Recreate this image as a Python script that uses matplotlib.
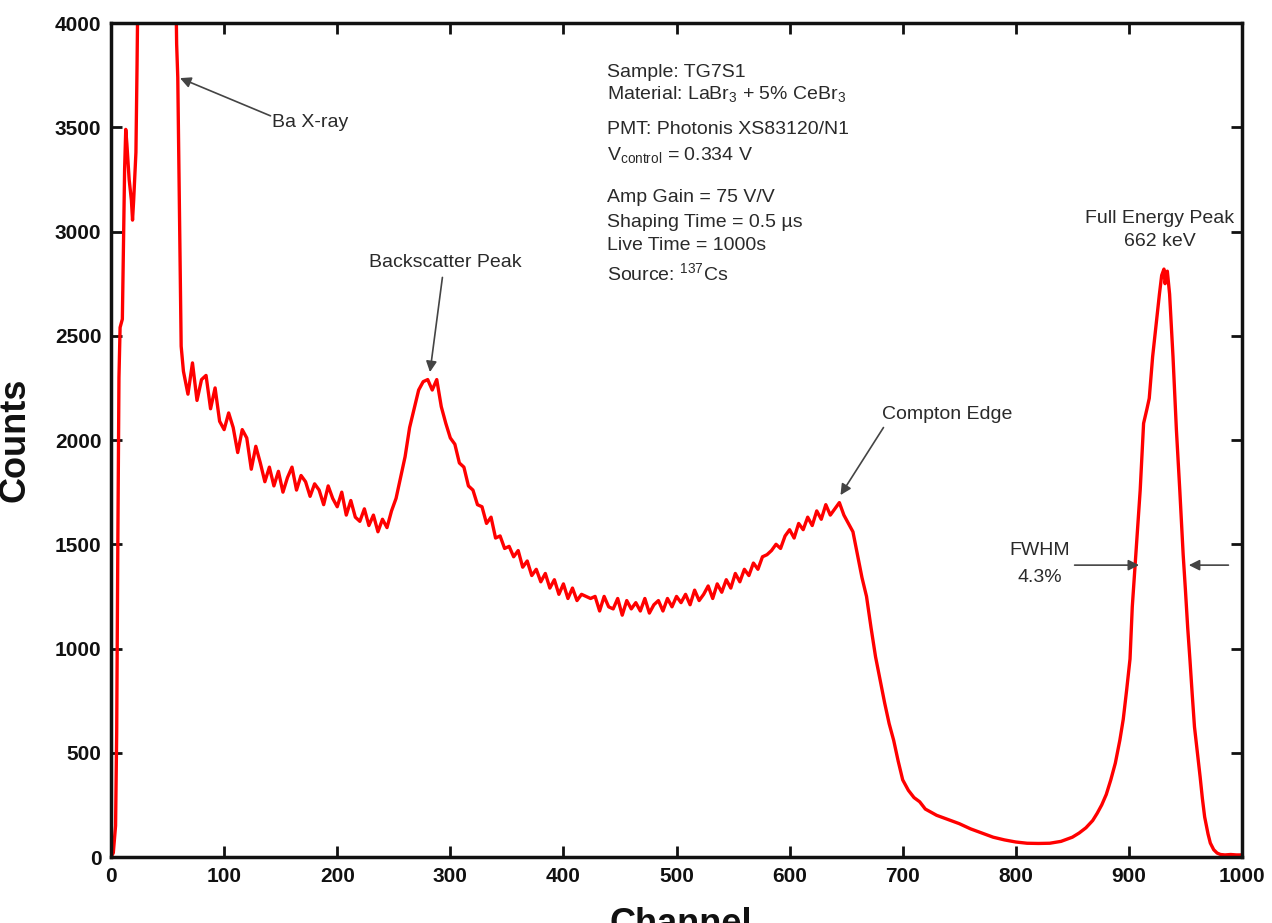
import numpy as np
import matplotlib
matplotlib.use("Agg")
import matplotlib.pyplot as plt

plt.rcParams['font.family'] = ['Liberation Sans', 'DejaVu Sans']
plt.rcParams['mathtext.fontset'] = 'custom'
plt.rcParams['mathtext.rm'] = 'Liberation Sans'
plt.rcParams['mathtext.it'] = 'Liberation Sans:italic'
plt.rcParams['mathtext.bf'] = 'Liberation Sans:bold'

# ---------------- data ----------------
ch_low = [0, 2, 4, 5, 6, 7, 8, 10, 12, 13, 14, 16, 18, 19, 20, 22, 23, 24, 26,
          30, 40, 50, 56, 57, 58, 59, 60, 61, 62]
counts_low = [0, 20, 150, 600, 1500, 2300, 2540, 2580, 3300, 3490, 3420, 3250,
              3150, 3055, 3150, 3380, 3800, 4300, 6000, 9500, 12000, 8000, 5000,
              4300, 3900, 3740, 3300, 2900, 2450]

ch_mid = list(range(64, 661, 4))
counts_mid = [
    2330, 2220, 2370, 2190, 2290, 2310, 2150, 2250, 2090, 2050,   # 64-100
    2130, 2060, 1940, 2050, 2010, 1860, 1970, 1890, 1800, 1870,   # 104-140
    1780, 1850, 1750, 1820, 1870, 1760, 1830, 1800, 1730, 1790,   # 144-180
    1760, 1690, 1780, 1720, 1680, 1750, 1640, 1710, 1630, 1610,   # 184-220
    1670, 1590, 1640, 1560, 1620, 1580, 1660, 1720, 1820, 1920,   # 224-260
    2060, 2150, 2240, 2280, 2290, 2240, 2290, 2160, 2080, 2010,   # 264-300
    1980, 1890, 1870, 1780, 1760, 1690, 1680, 1600, 1630, 1530,   # 304-340
    1540, 1480, 1490, 1440, 1470, 1390, 1420, 1350, 1380, 1320,   # 344-380
    1360, 1290, 1330, 1260, 1310, 1240, 1290, 1230, 1260, 1250,   # 384-420
    1240, 1250, 1180, 1250, 1200, 1190, 1240, 1160, 1230, 1190,   # 424-460
    1220, 1180, 1240, 1170, 1210, 1230, 1180, 1240, 1200, 1250,   # 464-500
    1220, 1260, 1210, 1280, 1230, 1260, 1300, 1240, 1310, 1270,   # 504-540
    1330, 1290, 1360, 1320, 1380, 1350, 1410, 1380, 1440, 1450,   # 544-580
    1470, 1500, 1480, 1540, 1570, 1530, 1600, 1570, 1630, 1590,   # 584-620
    1660, 1620, 1690, 1640, 1670, 1700, 1640, 1600, 1560, 1450,   # 624-660
]

ch_high = [664, 668, 672, 676, 680, 684, 688, 692, 696, 700, 705, 710, 715, 720,
           725, 730, 740, 750, 760, 770, 780, 790, 800, 810, 820, 830, 840, 850,
           856, 862, 868, 872, 876, 880, 884, 888, 892, 895, 898, 901, 903, 906,
           908, 910, 913, 916, 918, 921, 924, 927, 929, 931, 932, 934, 936, 939,
           942, 945, 948, 950, 952, 954, 956, 958, 961, 963, 965, 967, 970, 972,
           975, 978, 981, 985, 990, 995, 1000]
counts_high = [1340, 1250, 1100, 960, 850, 740, 640, 560, 460, 370, 320, 285, 265,
               230, 215, 200, 180, 160, 135, 115, 95, 82, 72, 66, 65, 66, 75, 95,
               115, 140, 175, 210, 250, 300, 370, 450, 560, 660, 800, 950, 1200,
               1440, 1600, 1760, 2080, 2150, 2200, 2400, 2550, 2700, 2790, 2820,
               2750, 2810, 2700, 2400, 2050, 1760, 1450, 1280, 1100, 945, 780, 624,
               480, 384, 280, 192, 110, 67, 35, 19, 12, 10, 12, 10, 10]

channels = ch_low + ch_mid + ch_high
counts = counts_low + counts_mid + counts_high

x_ticks = list(range(0, 1001, 100))
y_ticks = list(range(0, 4001, 500))

info_lines = [
    ("Sample: TG7S1", 3741),
    ("Material: LaBr$_3$ + 5% CeBr$_3$", 3635),
    ("PMT: Photonis XS83120/N1", 3468),
    ("V$_{\\rm control}$ = 0.334 V", 3343),
    ("Amp Gain = 75 V/V", 3141),
    ("Shaping Time = 0.5 \u00b5s", 3022),
    ("Live Time = 1000s", 2911),
    ("Source: $^{137}$Cs", 2767),
]

# ---------------- figure ----------------
fig = plt.figure(figsize=(12.72, 9.23), dpi=100)
ax = fig.add_axes([0.0873, 0.0715, 0.9764 - 0.0873, 0.975 - 0.0715])

ax.plot(channels, counts, color='#ff0000', lw=2.4, clip_on=True)

ax.set_xlim(0, 1000)
ax.set_ylim(0, 4000)
ax.set_xticks(x_ticks)
ax.set_yticks(y_ticks)
ax.tick_params(direction='in', length=8, width=2, top=True, right=True,
               labelsize=15, pad=7, colors='#111111')
for lab in ax.get_xticklabels() + ax.get_yticklabels():
    lab.set_fontweight('bold')
for sp in ax.spines.values():
    sp.set_linewidth(2.5)
    sp.set_color('#111111')

ax.set_ylabel('Counts', fontsize=26, fontweight='bold', labelpad=16, color='#111111')
fig.text(0.535, -0.012, 'Channel', fontsize=26, fontweight='bold', ha='center',
         va='baseline', color='#111111')

txt_col = '#2a2a2a'
for s, yv in info_lines:
    ax.text(438.5, yv, s, fontsize=14, color=txt_col, va='baseline', ha='left')

arrow_kw = dict(arrowstyle='-|>', color='#444444', lw=1.2, mutation_scale=16,
                shrinkA=0, shrinkB=0)

ax.text(142, 3500, 'Ba X-ray', fontsize=14, color=txt_col, va='baseline', ha='left')
ax.annotate('', xy=(61, 3736), xytext=(141, 3555), arrowprops=arrow_kw)

ax.text(296, 2830, 'Backscatter Peak', fontsize=14, color=txt_col,
        ha='center', va='baseline')
ax.annotate('', xy=(282, 2326), xytext=(293, 2780), arrowprops=arrow_kw)

ax.text(682, 2100, 'Compton Edge', fontsize=14, color=txt_col,
        ha='left', va='baseline')
ax.annotate('', xy=(645, 1736), xytext=(683, 2060), arrowprops=arrow_kw)

ax.text(927, 3040, 'Full Energy Peak', fontsize=14, color=txt_col,
        ha='center', va='baseline')
ax.text(927, 2930, '662 keV', fontsize=14, color=txt_col,
        ha='center', va='baseline')

ax.text(821, 1450, 'FWHM', fontsize=14, color=txt_col, ha='center', va='baseline')
ax.text(821, 1320, '4.3%', fontsize=14, color=txt_col, ha='center', va='baseline')
ax.annotate('', xy=(909, 1400), xytext=(852, 1400), arrowprops=arrow_kw)
ax.annotate('', xy=(953, 1400), xytext=(988, 1400), arrowprops=arrow_kw)

fig.savefig('out.png', dpi=100)
